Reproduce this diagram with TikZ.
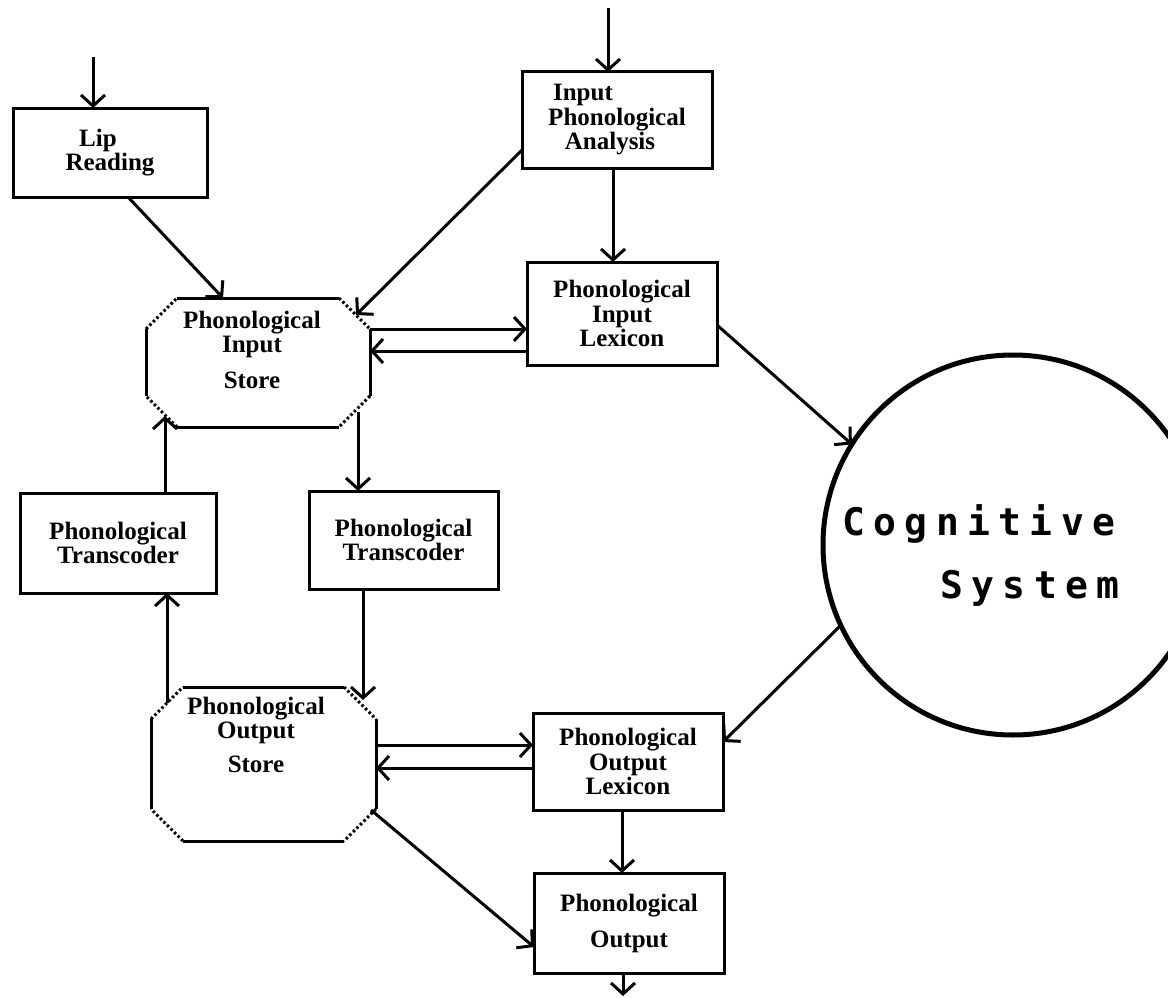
\documentclass[tikz,border=0pt]{standalone}
\usepackage{fontspec}
\setmainfont{Liberation Serif}
\newfontfamily\boxfont{Liberation Serif}
\newfontfamily\cogfont[LetterSpace=22]{DejaVu Sans Mono}
\usetikzlibrary{arrows.meta,calc}
\newcommand\octagonpath[2]{%
  \draw[plain] ($(#1.north west)+(#2,0)$) -- ($(#1.north east)+(-#2,0)$);
  \draw[plain] ($(#1.north east)+(0,#2)$) -- ($(#1.south east)+(0,-#2)$);
  \draw[plain] ($(#1.south east)+(-#2,0)$) -- ($(#1.south west)+(#2,0)$);
  \draw[plain] ($(#1.south west)+(0,-#2)$) -- ($(#1.north west)+(0,#2)$);
  \draw[chamf] ($(#1.north east)+(-#2,0)$) -- ($(#1.north east)+(0,#2)$);
  \draw[chamf] ($(#1.south east)+(0,-#2)$) -- ($(#1.south east)+(-#2,0)$);
  \draw[chamf] ($(#1.south west)+(#2,0)$) -- ($(#1.south west)+(0,-#2)$);
  \draw[chamf] ($(#1.north west)+(0,#2)$) -- ($(#1.north west)+(#2,0)$);
}
\tikzset{
  txt/.style={font=\boxfont\bfseries\fontsize{25}{24.5}\selectfont},
  box/.style={draw, line width=3pt, rectangle, outer sep=0pt, inner sep=0pt, align=center, txt},
  lbl/.style={align=center, inner sep=0pt, txt},
  shapebox/.style={rectangle, draw=none, outer sep=0pt, inner sep=0pt},
  conn/.style={line width=3pt, -{Straight Barb[length=11pt,width=24pt]}},
  plain/.style={line width=3pt},
  chamf/.style={line width=3pt, dash pattern=on 2.5pt off 2.5pt},
}
\begin{document}
\begin{tikzpicture}[x=1pt,y=-1pt]
\useasboundingbox (0,0) rectangle (1168,998);
\clip (0,0) rectangle (1168,998);
\fill[white] (0,0) rectangle (1168,998);

% boxes
\node[box, minimum width=194pt, minimum height=89pt] (lip) at (110,152.5) {Lip\hspace*{24pt}\\Reading};
\node[box, minimum width=190pt, minimum height=96pt] (ipa) at (617,120) {Input\hspace*{68pt}\\Phonological\\Analysis\hspace*{14pt}};
\node[box, minimum width=190pt, minimum height=103pt] (pil) at (622,313.5) {Phonological\\Input\\Lexicon};
\node[box, minimum width=196pt, minimum height=100pt] (ptl) at (118,543) {Phonological\\Transcoder};
\node[box, minimum width=189pt, minimum height=98pt] (ptr) at (403.5,540) {Phonological\\Transcoder};
\node[box, minimum width=190pt, minimum height=97pt] (pol) at (628,761.5) {Phonological\\Output\hspace*{14pt}\\Lexicon};
\node[box, minimum width=190pt, minimum height=100pt] (po) at (629,923) {Phonological\\[11.5pt]Output};

% octagons
\node[shapebox, minimum width=224pt, minimum height=129pt] (pis) at (258,362.5) {};
\octagonpath{pis}{31}
\node[lbl] (pisT) at (252,350) {Phonological\\Input\\[11.5pt]Store};
\node[shapebox, minimum width=225pt, minimum height=154pt] (pos) at (263.5,764) {};
\octagonpath{pos}{32}
\node[lbl] (posT) at (256,735) {Phonological\\Output\hspace*{14pt}\\[9.5pt]Store};

% cognitive system
\node[circle, draw, line width=5pt, minimum size=380pt, inner sep=0pt, outer sep=0pt] (cog) at (1013,545) {};
\node[align=left, inner sep=0pt, font=\cogfont\bfseries\fontsize{38}{63}\selectfont] (cogT) at (981,555) {Cognitive\\\hspace*{98pt}System};

% connectors
\coordinate (lipIn) at (93,57);
\draw[conn] (lipIn) -- (lipIn |- lip.north);
\coordinate (ipaIn) at (608,8);
\draw[conn] (ipaIn) -- (ipaIn |- ipa.north);
\draw[conn] ($(lip.south west)+(115,0)$) -- ($(pis.north west)+(77,0)$);
\draw[conn] ($(ipa.north west)+(0,78)$) -- ($(pis.north east)+(-14,17)$);
\coordinate (a1) at ($(ipa.south)+(-4,0)$);
\draw[conn] (a1) -- (a1 |- pil.north);
\coordinate (p1) at ($(pis.north east)+(0,31)$);
\draw[conn] (p1) -- (p1 -| pil.west);
\coordinate (p2) at ($(pis.north east)+(0,53)$);
\draw[conn] (p2 -| pil.west) -- (p2);
\draw[conn] ($(pil.north east)+(0,63)$) -- (cog.148);
\draw[conn] (cog.205) -- ($(pol.north east)+(0,29)$);
\coordinate (p3) at ($(pis.south east)+(-12,-15)$);
\draw[conn] (p3) -- (p3 |- ptr.north);
\coordinate (p4) at ($(pis.south west)+(19,-11)$);
\draw[conn] (p4 |- ptl.north) -- (p4);
\coordinate (p5) at ($(pos.north west)+(16,16)$);
\draw[conn] (p5) -- (p5 |- ptl.south);
\coordinate (p6) at ($(pos.north east)+(-13,13)$);
\draw[conn] (p6 |- ptr.south) -- (p6);
\coordinate (p7) at ($(pos.north east)+(0,58)$);
\draw[conn] (p7) -- (p7 -| pol.west);
\coordinate (p8) at ($(pos.north east)+(0,81)$);
\draw[conn] (p8 -| pol.west) -- (p8);
\draw[conn] ($(pos.south east)+(-5,-31)$) -- ($(po.north west)+(0,74)$);
\coordinate (p9) at ($(pol.south)+(-6,0)$);
\draw[conn] (p9) -- (p9 |- po.north);
\coordinate (poOut) at (623,996);
\draw[conn] (poOut |- po.south) -- (poOut);
\end{tikzpicture}
\end{document}
